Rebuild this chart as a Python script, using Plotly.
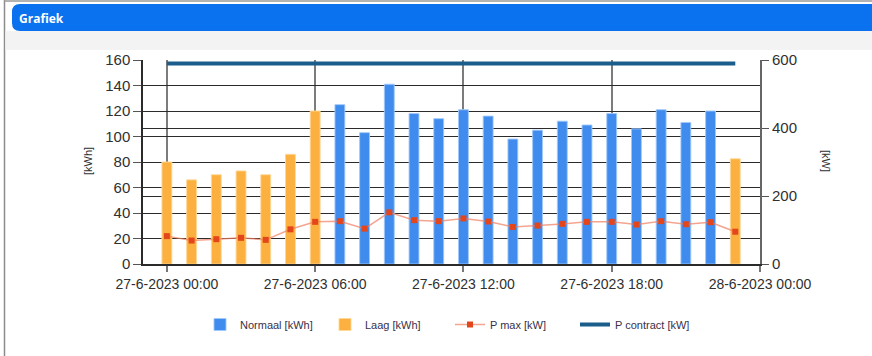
import plotly.graph_objects as go

# Hourly readings for 27-6-2023
timestamps = [f"2023-06-27 {h:02d}:00" for h in range(24)]

# Energy per hour [kWh], split into normal and low tariff
normaal_kwh = [None] * 7 + [125, 103, 141, 118, 114, 121, 116, 98,
                            105, 112, 109, 118, 106, 121, 111, 120] + [None]
laag_kwh = [80, 66, 70, 73, 70, 86, 120] + [None] * 16 + [82.5]

# Peak power and contracted power [kW]
pmax_kw = [82, 69, 73, 77, 71, 102, 124, 126, 104, 152, 129, 126,
           134, 125, 109, 113, 118, 124, 124, 116, 126, 117, 123, 95]
pcontract_kw = [590] * 24

x_range = ["2023-06-26 23:02", "2023-06-28 00:00"]
tick_start = "2023-06-27 00:00"

W, H = 872, 356
L, R, T, B = 143, 760, 60, 264


def px_x(px):
    return (px - L) / (R - L)


def px_y(py):
    return (B - py) / (B - T)


BAR_W = 0.4 * 3600 * 1000
GRID = "#2b2b2b"
TXT = "#303030"

fig = go.Figure()
fig.add_trace(go.Bar(
    x=timestamps, y=normaal_kwh, name="Normaal [kWh]", width=BAR_W,
    marker=dict(color="#3f8bee", line=dict(color="rgba(160,200,250,0.9)", width=1)),
))
fig.add_trace(go.Bar(
    x=timestamps, y=laag_kwh, name="Laag [kWh]", width=BAR_W,
    marker=dict(color="#fbb03f", line=dict(color="rgba(255,215,150,0.9)", width=1)),
))
fig.add_trace(go.Scatter(
    x=timestamps, y=pmax_kw, name="P max [kW]", yaxis="y2", mode="lines+markers",
    line=dict(color="rgba(240,125,95,0.7)", width=1.5),
    marker=dict(symbol="square", size=6, color="#e4461c"),
))
fig.add_trace(go.Scatter(
    x=timestamps, y=pcontract_kw, name="P contract [kW]", yaxis="y2", mode="lines",
    line=dict(color="#1b5e8c", width=4),
))

shapes = [
    # outer frame
    dict(type="line", xref="paper", yref="paper", x0=px_x(4.5), x1=px_x(4.5),
         y0=px_y(0), y1=px_y(356), line=dict(color="#8c8c8c", width=1.5)),
    dict(type="line", xref="paper", yref="paper", x0=px_x(4), x1=px_x(872),
         y0=px_y(1), y1=px_y(1), line=dict(color="#9a9a9a", width=1.5)),
    # light strip beneath the header
    dict(type="rect", xref="paper", yref="paper", x0=px_x(5.5), x1=px_x(872),
         y0=px_y(31), y1=px_y(50), fillcolor="#f3f3f3", line=dict(width=0)),
]

# header bar with rounded left corners
hx0, hx1, hy0, hy1, r = 12, 880, 4, 31, 8
header_path = (
    f"M {px_x(hx0 + r)},{px_y(hy0)} L {px_x(hx1)},{px_y(hy0)} "
    f"L {px_x(hx1)},{px_y(hy1)} L {px_x(hx0 + r)},{px_y(hy1)} "
    f"Q {px_x(hx0)},{px_y(hy1)} {px_x(hx0)},{px_y(hy1 - r)} "
    f"L {px_x(hx0)},{px_y(hy0 + r)} "
    f"Q {px_x(hx0)},{px_y(hy0)} {px_x(hx0 + r)},{px_y(hy0)} Z"
)
shapes.append(dict(type="path", xref="paper", yref="paper", path=header_path,
                   fillcolor="#0a72ee", line=dict(width=0)))

annotations = [
    dict(text="<b>Grafiek</b>", xref="paper", yref="paper", x=px_x(17), y=px_y(18),
         xanchor="left", yanchor="middle", showarrow=False,
         font=dict(family="Open Sans", size=12, color="white")),
    dict(text="[kWh]", xref="paper", yref="paper", x=px_x(88), y=px_y(161),
         textangle=-90, showarrow=False, xanchor="center", yanchor="middle",
         font=dict(family="Liberation Sans", size=11, color=TXT)),
    dict(text="[kW]", xref="paper", yref="paper", x=px_x(826), y=px_y(161),
         textangle=90, showarrow=False, xanchor="center", yanchor="middle",
         font=dict(family="Liberation Sans", size=11, color=TXT)),
]

fig.update_layout(
    width=W, height=H,
    margin=dict(l=L, r=W - R, t=T, b=H - B),
    paper_bgcolor="white", plot_bgcolor="white",
    barmode="overlay",
    font=dict(family="Liberation Sans", color=TXT),
    xaxis=dict(
        type="date", range=x_range, tick0=tick_start, dtick=6 * 3600 * 1000,
        tickformat="%-d-%-m-%Y %H:%M", showgrid=True, gridcolor="#7c7c7c", gridwidth=2,
        ticks="outside", ticklen=6, tickcolor="#777777", tickwidth=1.5,
        showline=True, linecolor=GRID, linewidth=1.5,
        tickfont=dict(size=14, color=TXT), zeroline=False,
    ),
    yaxis=dict(
        range=[0, 160], dtick=20, showgrid=True, gridcolor=GRID, gridwidth=1.3,
        ticks="outside", ticklen=8, tickcolor="#555555", tickwidth=1.3,
        showline=True, linecolor=GRID, linewidth=1.5, zeroline=False,
        tickfont=dict(size=15, color=TXT),
    ),
    yaxis2=dict(
        overlaying="y", side="right", range=[0, 600], dtick=200,
        showgrid=True, gridcolor=GRID, gridwidth=1.3,
        ticks="outside", ticklen=7, tickcolor="#555555", tickwidth=1.3,
        showline=True, linecolor="#666666", linewidth=2, zeroline=False,
        tickfont=dict(size=15, color=TXT),
    ),
    legend=dict(
        orientation="h", x=px_x(450), xanchor="center", y=px_y(310), yanchor="top",
        font=dict(size=11, color="#3a3048"), bgcolor="rgba(0,0,0,0)",
        traceorder="normal", itemwidth=30, entrywidth=80,
    ),
    shapes=shapes,
    annotations=annotations,
)

fig.write_html("out.html")
